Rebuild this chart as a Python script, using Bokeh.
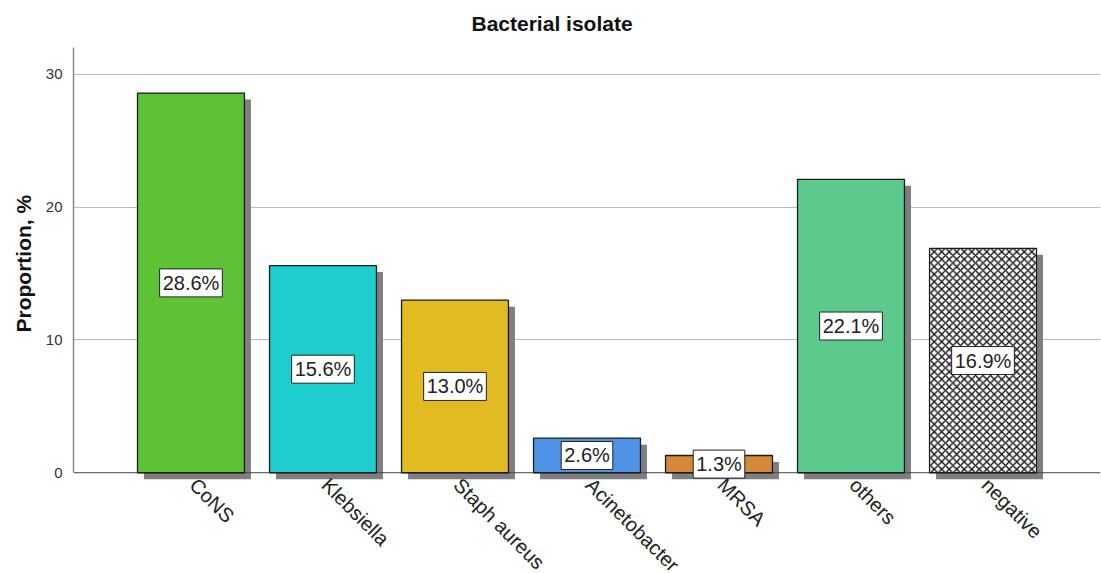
import math
from bokeh.plotting import figure
from bokeh.models import Range1d, FixedTicker, ColumnDataSource, Title
from bokeh.embed import file_html
from bokeh.resources import INLINE
from bokeh.core.properties import value

# Proportion of each bacterial isolate (%)
categories = ["CoNS", "Klebsiella", "Staph aureus", "Acinetobacter", "MRSA", "others", "negative"]
proportions = [28.6, 15.6, 13.0, 2.6, 1.3, 22.1, 16.9]
bar_colors = ["#5DC236", "#1ECECE", "#E2BB22", "#4F93E6", "#D4883A", "#5CC98D", "#FFFFFF"]
bar_hatches = [" ", " ", " ", " ", " ", " ", "diagonal_cross"]
y_ticks = [0, 10, 20, 30]

FONT = "Liberation Sans"
W, H = 1101, 573
LEFT, RIGHT, TOP, BOTTOM = 73, 1, 46, 0
Y1 = 32.03
Y0 = -7.59
X0, X1 = -0.89, 6.89

p = figure(width=W, height=H, output_backend="svg", toolbar_location=None,
           x_range=Range1d(X0, X1), y_range=Range1d(Y0, Y1),
           min_border_left=LEFT, min_border_right=RIGHT,
           min_border_top=TOP, min_border_bottom=BOTTOM)
p.outline_line_color = None
p.background_fill_color = "white"
p.xaxis.visible = False

# pixel -> data scale, used for offsets below the baseline
frame_w = W - LEFT - RIGHT
frame_h = H - TOP - BOTTOM
px_x = (X1 - X0) / frame_w
px_y = (Y1 - Y0) / frame_h
shadow_px = 6.5
bar_width = 0.81

xs = list(range(len(categories)))
src = ColumnDataSource(dict(
    x=xs,
    top=proportions,
    color=bar_colors,
    hatch=bar_hatches,
    sx=[x + shadow_px * px_x for x in xs],
    stop=[v - shadow_px * px_y for v in proportions],
    mid=[v / 2 for v in proportions],
    label=[f"{v:.1f}%" for v in proportions],
    cat=categories,
    lx=[x + 10 * px_x for x in xs],
    ly=[-1 * px_y for _ in xs],
))

# drop shadows
p.vbar(x="sx", top="stop", bottom=-shadow_px * px_y, width=bar_width, source=src,
       fill_color="#7F7F7F", line_color=None)

# baseline at zero
p.line(x=[X0, X1], y=[0, 0], line_color="#444444", line_width=1)

# bars
p.vbar(x="x", top="top", bottom=0, width=bar_width, source=src,
       fill_color="color", line_color="#1A1A1A", line_width=1.3,
       hatch_pattern="hatch", hatch_color="#111111", hatch_weight=1.4,
       hatch_scale=7.5)

# value labels in white boxes
p.text(x="x", y="mid", text="label", source=src,
       text_font=value(FONT), text_font_size="20px", text_color="#222222",
       text_align="center", text_baseline="middle",
       background_fill_color="white", border_line_color="#222222",
       border_line_width=1, padding=3)

# rotated category names under the baseline
p.text(x="lx", y="ly", text="cat", source=src, angle=-math.pi / 4,
       text_font=value(FONT), text_font_size="20px", text_color="#222222",
       text_align="left", text_baseline="top")

# title, centred over the whole canvas
p.title.text = "Bacterial isolate"
p.title.align = "left"
p.title.offset = 398
p.title.vertical_align = "top"
p.title.text_font = FONT
p.title.text_font_size = "21px"
p.title.text_font_style = "bold"
p.title.text_color = "#111111"
p.title.standoff = 22

# y axis
ya = p.yaxis[0]
ya.ticker = FixedTicker(ticks=y_ticks)
ya.bounds = (0, Y1)
ya.axis_line_color = "#888888"
ya.axis_line_width = 1.5
ya.major_tick_line_color = None
ya.minor_tick_line_color = None
ya.major_label_text_font = FONT
ya.major_label_text_font_size = "15px"
ya.major_label_text_color = "#333333"
ya.major_label_standoff = 5

# y axis title, centred on the value span of the axis
ytitle = Title(text="Proportion, %", align="left", offset=241,
               text_font=FONT, text_font_size="21px", text_font_style="bold",
               text_color="#111111", standoff=16)
p.add_layout(ytitle, "left")

# grid
p.xgrid.grid_line_color = None
p.ygrid.ticker = FixedTicker(ticks=y_ticks[1:])
p.ygrid.grid_line_color = "#BBBBBB"
p.ygrid.grid_line_width = 1.2

open("out.html", "w").write(file_html(p, INLINE))
